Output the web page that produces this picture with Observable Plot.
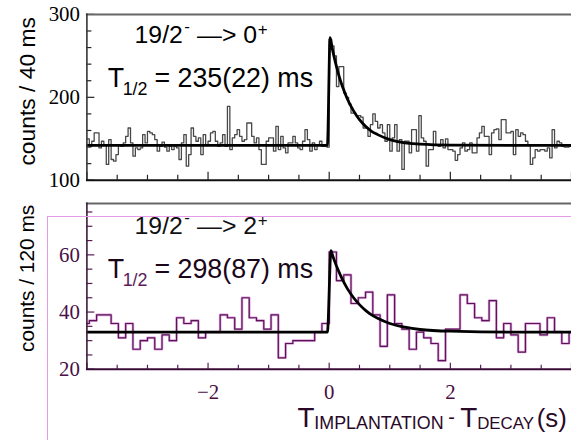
<!DOCTYPE html>
<html>
<head>
<meta charset="utf-8">
<script src="https://cdn.jsdelivr.net/npm/d3@7"></script>
<script src="https://cdn.jsdelivr.net/npm/@observablehq/plot@0.6"></script>
<style>
  html, body { margin: 0; padding: 0; background: #fff; }
  #wrap { position: relative; width: 571px; height: 440px; overflow: hidden; background: #fff; }
  #top, #bot { position: absolute; left: 0; }
  #top { top: 0; }
  #bot { top: 190px; }
  #pink { position: absolute; left: 47px; top: 216px; width: 600px; height: 300px;
          border-top: 1px solid #e59be5; border-left: 1px solid #e59be5; pointer-events: none; }
  svg { display: block; }
</style>
</head>
<body>
<div id="wrap">
  <div id="top"></div>
  <div id="bot"></div>
  <div id="pink"></div>
</div>
<script>
// ---------------- data ----------------
// top panel: counts per 40 ms bin, from t = -4 s
const topBinStart = -4;
const topBinWidth = 0.04;
const topCountsNeg = [
  150,141,147,157,157,139,147,143,119,149,125,123,131,143,141,145,153,163,145,129,139,137,139,155,145,159,157,155,149,135,141,146,140,
  135,141,137,141,139,125,145,155,117,131,163,153,147,151,131,155,143,147,157,159,147,141,145,155,141,189,137,151,155,161,153,147,
  149,169,169,153,145,151,137,119,119,147,151,151,135,165,137,153,139,133,145,145,153,145,139,137,147,161,149,135,145,137,143,147,141,141,140
];
const topCountsPos = [
  270,262,250,213,237,237,205,200,192,181,181,178,178,176,163,163,153,167,180,171,163,167,157,147,167,135,151,167,135,149,113,147,
  147,133,161,161,135,178,151,147,117,137,137,159,143,141,149,139,150,137,137,135,124,131,139,145,135,137,145,133,133,151,157,165,153,
  153,131,157,161,162,149,173,173,157,157,159,131,161,153,157,155,147,143,119,127,137,135,137,137,135,139,127,161,139,147,145,141,140,
  140,141
];
// fit curve
const topFitT = [-4, -0.03, 0.015, 0.05, 0.1, 0.15, 0.2, 0.25, 0.3, 0.4, 0.5, 0.6, 0.7, 0.8, 1.0, 1.25, 1.5, 2.0, 3.0, 4.0];
const topFitV = [142, 142, 272, 259, 243, 229, 217, 207, 198, 184, 173, 165, 159, 155, 149, 145, 143.6, 142.4, 142, 142];

// bottom panel: counts per 120 ms bin, from t = -4.08 s
const botBinStart = -4.08;
const botBinWidth = 0.12;
const botCountsNeg = [36,37,39,39,36,31,36,27,30,31,27,32,30,38,36,37,31,33,33,39,38,34,45,38,37,34,39,24,29,30,30,30,33,36];
const botCountsPos = [61,51,53,43,45,47,39,28,46,36,34,27,33,31,29,23,34,34,46,43,38,37,44,31,36,32,26,36,36,32,38,33,29,33];
const botFitT = [-4, -0.03, 0.03, 0.05, 0.1, 0.15, 0.2, 0.3, 0.4, 0.5, 0.6, 0.7, 0.8, 1.0, 1.25, 1.5, 2.0, 3.0, 4.0];
const botFitV = [33, 33, 61.5, 60.2, 57.2, 54.6, 52.2, 48.2, 45.1, 42.6, 40.6, 39.0, 37.8, 36.0, 34.7, 33.9, 33.3, 33, 33];

// ticks
const xTickLabels = [-2, 0, 2];
const xMajorTicks = [-4, -2, 0, 2, 4];
const xMinorTicks = [-3.5, -3, -2.5, -1.5, -1, -0.5, 0.5, 1, 1.5, 2.5, 3, 3.5];
const topYLabels = [100, 200, 300];
const topYMinor = [120, 140, 160, 180, 220, 240, 260, 280];
const botYLabels = [20, 40, 60];
const botYMinor = [25, 30, 35, 45, 50, 55, 65, 70, 75];

const topXDomain = [-4, 4];
const topYDomain = [100, 300];
const botYDomain = [20, 78];

// ---------------- helpers ----------------
function steps(start, width, counts) {
  const pts = counts.map((c, i) => ({x: start + i * width, y: c}));
  pts.push({x: start + counts.length * width, y: counts[counts.length - 1]});
  return pts;
}
const topHist = steps(topBinStart, topBinWidth, topCountsNeg.concat(topCountsPos));
const botHist = steps(botBinStart, botBinWidth, botCountsNeg.concat(botCountsPos));
const topFit = topFitT.map((t, i) => ({t, v: topFitV[i]}));
const botFit = botFitT.map((t, i) => ({t, v: botFitV[i]}));

const W = 575, ML = 87;
const innerW = W - ML;
const SANS = "Liberation Sans, Arial, Helvetica, sans-serif";
const SERIF = "Liberation Serif, Times New Roman, serif";
const fmtMinus = d => d < 0 ? "\u2212" + Math.abs(d) : String(d);

function label(txt, o) {
  return Plot.text([txt], Object.assign({text: d => d, frameAnchor: "top-left", textAnchor: "start",
    lineAnchor: "bottom", fontFamily: SANS}, o));
}
function xtitle(txt, o) {
  return Plot.text([txt], Object.assign({text: d => d, frameAnchor: "bottom-left", textAnchor: "start",
    lineAnchor: "bottom", fontFamily: SANS, fill: "#2a0828"}, o));
}

// ---------------- top panel ----------------
const topH = 190, topMT = 14, topMB = 9;
const topInnerH = topH - topMT - topMB;
const topPlot = Plot.plot({
  width: W, height: topH,
  marginLeft: ML, marginRight: 0, marginTop: topMT, marginBottom: topMB,
  x: {domain: topXDomain, axis: null},
  y: {domain: topYDomain, axis: null},
  style: {fontFamily: SANS, background: "transparent", overflow: "visible"},
  marks: [
    Plot.line(topHist, {x: "x", y: "y", curve: "step-after", stroke: "#484848", strokeWidth: 1.3, clip: true}),
    Plot.line(topFit, {x: "t", y: "v", curve: "monotone-x", stroke: "#000", strokeWidth: 2.8, clip: true}),
    Plot.tickX(xMajorTicks, {stroke: "#222", strokeWidth: 1.2, insetTop: topInnerH - 8}),
    Plot.tickX(xMinorTicks, {stroke: "#222", strokeWidth: 1.2, insetTop: topInnerH - 5}),
    Plot.tickY(topYLabels, {stroke: "#222", strokeWidth: 1.2, insetRight: innerW - 8}),
    Plot.tickY(topYMinor, {stroke: "#222", strokeWidth: 1.2, insetRight: innerW - 5}),
    Plot.frame({anchor: "top", stroke: "#666", strokeWidth: 2}),
    Plot.frame({anchor: "left", stroke: "#333", strokeWidth: 1.6}),
    Plot.frame({anchor: "bottom", stroke: "#111", strokeWidth: 1.8}),
    Plot.axisY({ticks: topYLabels, tickSize: 0, tickPadding: 7, fontSize: 21, fontFamily: SERIF,
      color: "#000", label: null}),
    Plot.text(["counts / 40 ms"], {text: d => d, frameAnchor: "left", textAnchor: "middle", lineAnchor: "middle",
      rotate: -90, dx: -60, dy: -6, fontSize: 23, fontFamily: SANS, fill: "#000"}),
    label("19/2", {dx: 48, dy: 29, fontSize: 25}),
    label("-", {dx: 98, dy: 18, fontSize: 17}),
    label("\u2014> 0", {dx: 111, dy: 29, fontSize: 25}),
    label("+", {dx: 172, dy: 21, fontSize: 17}),
    label("T", {dx: 21, dy: 73, fontSize: 27}),
    label("1/2", {dx: 36, dy: 81, fontSize: 18}),
    label("= 235(22) ms", {dx: 68, dy: 73, fontSize: 27})
  ]
});
document.getElementById("top").appendChild(topPlot);

// ---------------- bottom panel ----------------
const botH = 250, botMT = 13, botMB = 70;
const botInnerH = botH - botMT - botMB;
const PURP = "#4a0f45";
const botPlot = Plot.plot({
  width: W, height: botH,
  marginLeft: ML, marginRight: 0, marginTop: botMT, marginBottom: botMB,
  x: {domain: topXDomain, axis: null},
  y: {domain: botYDomain, axis: null},
  style: {fontFamily: SANS, background: "transparent", overflow: "visible"},
  marks: [
    Plot.line(botHist, {x: "x", y: "y", curve: "step-after", stroke: "#dca0dc", strokeWidth: 2.6, clip: true}),
    Plot.line(botHist, {x: "x", y: "y", curve: "step-after", stroke: "#5a1456", strokeWidth: 1.2, clip: true}),
    Plot.line(botFit, {x: "t", y: "v", curve: "monotone-x", stroke: "#000", strokeWidth: 2.8, clip: true}),
    Plot.tickX(xMajorTicks, {stroke: "#5a1a55", strokeWidth: 1.2, insetTop: botInnerH - 6}),
    Plot.tickX(xMinorTicks, {stroke: "#5a1a55", strokeWidth: 1.2, insetTop: botInnerH - 4}),
    Plot.tickY(botYLabels, {stroke: "#5a1a55", strokeWidth: 1.2, insetRight: innerW - 8}),
    Plot.tickY(botYMinor, {stroke: "#5a1a55", strokeWidth: 1.2, insetRight: innerW - 6}),
    Plot.frame({anchor: "top", stroke: "#666", strokeWidth: 2}),
    Plot.frame({anchor: "left", stroke: "#3a1a38", strokeWidth: 1.6}),
    Plot.frame({anchor: "bottom", stroke: "#3a0a36", strokeWidth: 1.8}),
    Plot.axisY({ticks: botYLabels, tickSize: 0, tickPadding: 7, fontSize: 21, fontFamily: SERIF,
      color: PURP, label: null}),
    Plot.axisX({ticks: xTickLabels, tickSize: 0, tickPadding: 15, fontSize: 21, fontFamily: SERIF,
      color: PURP, label: null, tickFormat: fmtMinus}),
    Plot.text(["counts / 120 ms"], {text: d => d, frameAnchor: "left", textAnchor: "middle", lineAnchor: "middle",
      rotate: -90, dx: -60, dy: -8, fontSize: 21, fontFamily: SANS, fill: "#000"}),
    label("19/2", {dx: 48, dy: 31, fontSize: 25, fill: "#111"}),
    label("-", {dx: 98, dy: 20, fontSize: 17, fill: "#111"}),
    label("\u2014> 2", {dx: 111, dy: 31, fontSize: 25, fill: "#111"}),
    label("+", {dx: 172, dy: 23, fontSize: 17, fill: "#111"}),
    label("T", {dx: 21, dy: 75, fontSize: 27, fill: "#1a0618"}),
    label("1/2", {dx: 36, dy: 83, fontSize: 18, fill: "#5a1a5a"}),
    label("= 298(87) ms", {dx: 68, dy: 75, fontSize: 27, fill: "#1a0618"}),
    // x-axis title
    xtitle("T", {dx: 212, dy: 58, fontSize: 28}),
    xtitle("IMPLANTATION", {dx: 229, dy: 60, fontSize: 18}),
    xtitle("-", {dx: 364, dy: 55, fontSize: 20}),
    xtitle("T", {dx: 376, dy: 58, fontSize: 28}),
    xtitle("DECAY", {dx: 393, dy: 60, fontSize: 17}),
    xtitle("(s)", {dx: 453, dy: 58, fontSize: 26})
  ]
});
document.getElementById("bot").appendChild(botPlot);
</script>
</body>
</html>
